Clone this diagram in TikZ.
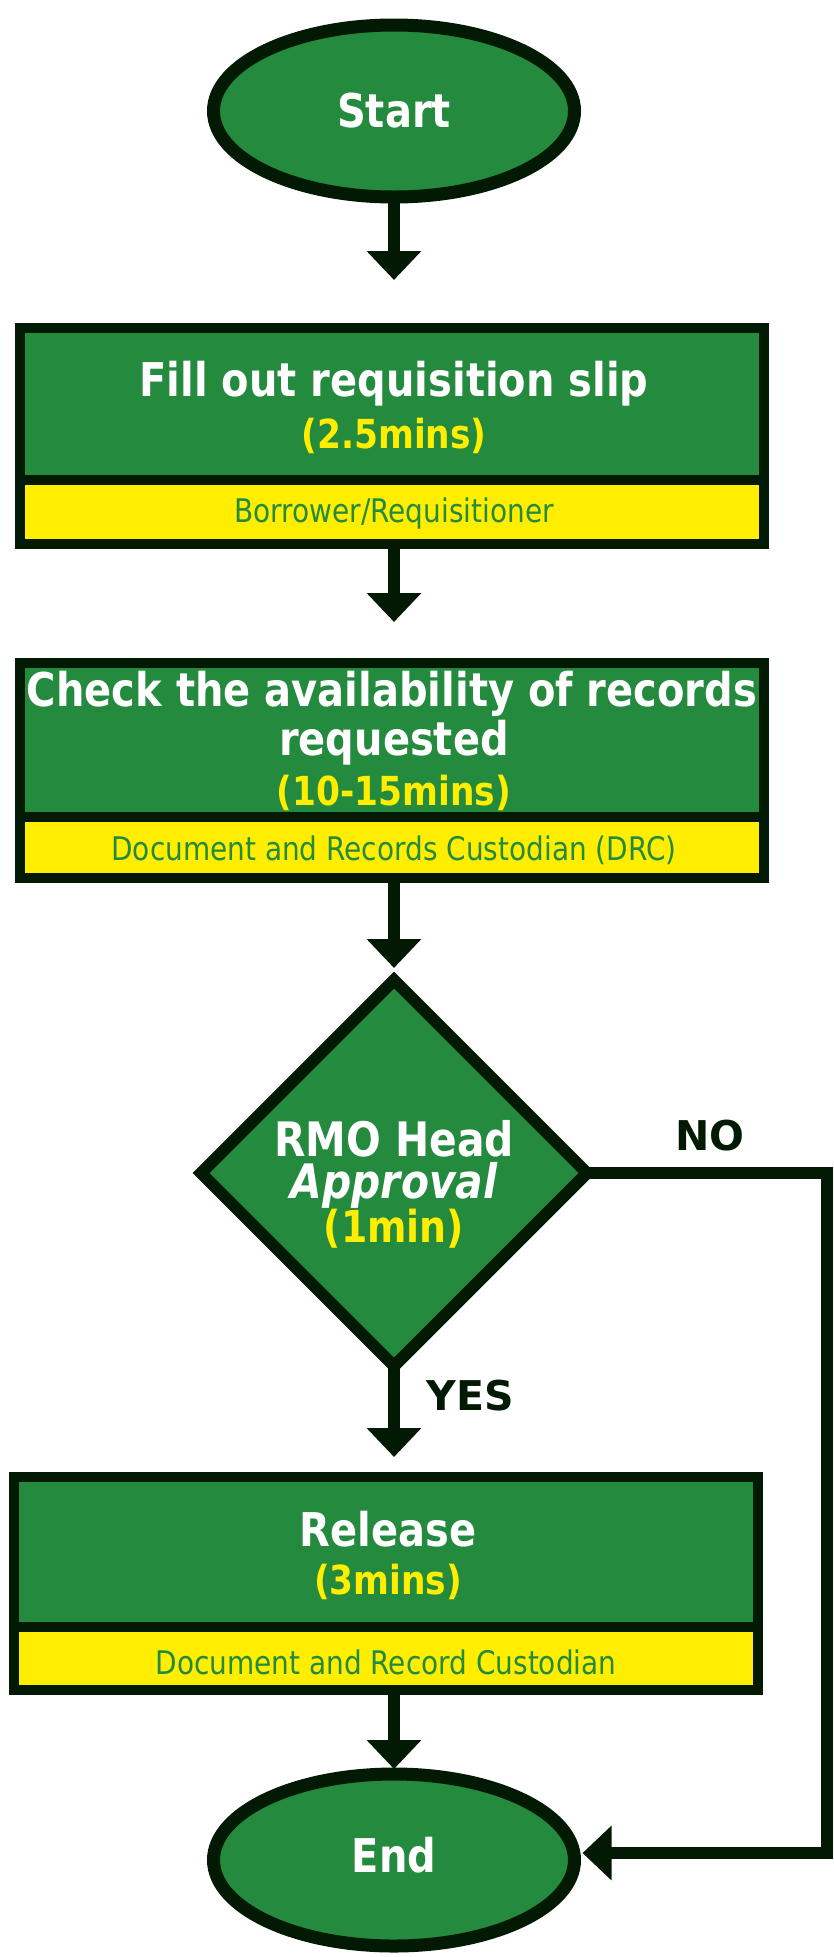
\documentclass[tikz,border=0pt]{standalone}
\usepackage{fontspec}
\usetikzlibrary{shapes.geometric,arrows.meta}
\newfontfamily\tah[FakeStretch=0.86]{DejaVu Sans}
\newfontfamily\ver{DejaVu Sans}
\definecolor{gr}{HTML}{238A3E}
\definecolor{dk}{HTML}{021A03}
\definecolor{yl}{HTML}{FFEE00}
\tikzset{
  conn/.style={draw=dk, line width=12.5pt, -{Triangle[width=53pt,length=29pt]}},
  term/.style={ellipse, draw=dk, fill=gr, line width=13pt, minimum width=361pt, minimum height=172pt, inner sep=0pt, outer sep=0pt},
  greenbox/.style={rectangle, draw=dk, fill=gr, line width=10pt, minimum width=744pt, inner sep=0pt, outer sep=0pt},
  bandbox/.style={rectangle, draw=dk, fill=yl, line width=10pt, minimum width=744pt, inner sep=0pt, outer sep=0pt},
  decision/.style={diamond, draw=dk, fill=gr, line width=12pt, minimum width=386pt, minimum height=386pt, inner sep=0pt, outer sep=0pt},
  ttl/.style={text=white, font=\tah\bfseries\fontsize{46.5}{50}\selectfont, inner sep=0pt},
  dtx/.style={text=white, align=center, font=\tah\bfseries\fontsize{47.5}{42}\selectfont, inner sep=0pt},
  tim/.style={text=yl, font=\tah\bfseries\fontsize{40}{44}\selectfont, inner sep=0pt},
  band/.style={text=gr, font=\tah\fontsize{32.5}{36}\selectfont, inner sep=0pt},
  lbl/.style={text=dk, font=\ver\bfseries\fontsize{41}{44}\selectfont, inner sep=0pt},
}
\begin{document}
\begin{tikzpicture}[x=1pt, y=-1pt]
\useasboundingbox (0,0) rectangle (834,1957);
% Start
\node[term] (start) at (394,111) {};
\node[ttl] (startt) at (394,111) {Start};
% Box 1
\node[greenbox, minimum height=152pt] (b1) at (392,404) {};
\node[bandbox, minimum height=64pt] (b1y) at (392,512) {};
\node[ttl] (b1t) at (394,384) {Fill out requisition slip};
\node[tim] (b1m) at (394,436) {(2.5mins)};
\node[band] (b1r) at (394,514) {Borrower/Requisitioner};
% Box 2
\node[greenbox, minimum height=154pt] (b2) at (392,740) {};
\node[bandbox, minimum height=61pt] (b2y) at (392,847.5) {};
\node[ttl] (b2t) at (392,694) {Check the availability of records};
\node[ttl] (b2u) at (394,743) {requested};
\node[tim] (b2m) at (394,793) {(10-15mins)};
\node[band] (b2r) at (394,850) {Document and Records Custodian (DRC)};
% Decision
\node[decision] (dia) at (394,1173) {};
\node[dtx] (dtext) at (394,1184) {RMO Head\\{\itshape Approval}\\{\color{yl}\fontsize{44}{42}\selectfont(1min)}};
% Box 3
\node[greenbox, minimum height=150pt] (b3) at (386,1552) {};
\node[bandbox, minimum height=63pt] (b3y) at (386,1658.5) {};
\node[ttl] (b3t) at (388,1529) {Release};
\node[tim] (b3m) at (388,1582) {(3mins)};
\node[band] (b3r) at (386,1662) {Document and Record Custodian};
% End
\node[term] (end) at (394,1860) {};
\node[ttl] (endt) at (394,1855) {End};
% Labels
\node[lbl] (no) at (710,1136) {NO};
\node[lbl] (yes) at (470,1396) {YES};
% Connectors
\draw[conn, shorten >=48pt] (start.south) -- (start.south |- b1.north);
\draw[conn, shorten >=41pt] (start.south |- b1y.south) -- (start.south |- b2.north);
\draw[conn, shorten >=12pt] (start.south |- b2y.south) -- (dia.north);
\draw[conn, shorten >=20pt] (dia.south) -- (dia.south |- b3.north);
\draw[conn, shorten >=5pt] (start.south |- b3y.south) -- (end.north);
\coordinate (nocorner) at (827,1173);
\draw[conn, shorten >=8pt] (dia.east) -- (nocorner) |- ([yshift=7pt]end.east);
\end{tikzpicture}
\end{document}
